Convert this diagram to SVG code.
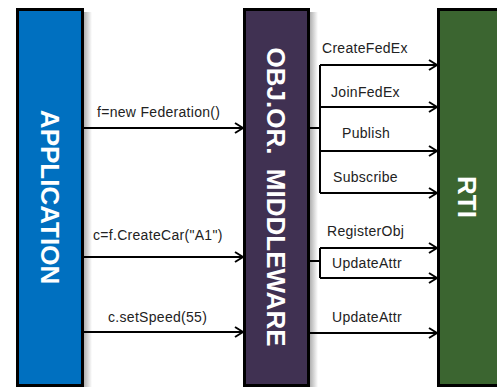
<svg xmlns="http://www.w3.org/2000/svg" width="497" height="389" viewBox="0 0 497 389">
  <style>
    .box { stroke: #000; stroke-width: 3; }
    .title { font-family: "Liberation Sans", Arial, sans-serif; font-weight: bold; font-size: 26px; fill: #fff; text-anchor: middle; }
    .lbl { font-family: "Liberation Sans", Arial, sans-serif; font-size: 14px; letter-spacing: 0.3px; fill: #222; }
    .conn { fill: none; stroke: #000; stroke-width: 2; }
  </style>
  <defs>
    <linearGradient id="shade" x1="0" y1="0" x2="1" y2="0">
      <stop offset="0" stop-color="#000" stop-opacity="0.35"/>
      <stop offset="1" stop-color="#000" stop-opacity="0"/>
    </linearGradient>
    <marker id="chev" viewBox="0 0 10 12" refX="9" refY="6" markerWidth="10" markerHeight="12" markerUnits="userSpaceOnUse" orient="auto">
      <path d="M1,1 L9,6 L1,11" fill="none" stroke="#000" stroke-width="2"/>
    </marker>
  </defs>
  <rect width="497" height="389" fill="#fff"/>

  <!-- soft shadows on the right of each column -->
  <rect x="83" y="12" width="9" height="375" fill="url(#shade)"/>
  <rect x="309" y="12" width="9" height="375" fill="url(#shade)"/>

  <g id="application">
    <rect class="box" x="17.5" y="9.5" width="65" height="376" fill="#0070C0"/>
    <text class="title" transform="translate(50,197) rotate(90)" dy="9">APPLICATION</text>
  </g>

  <g id="middleware">
    <rect class="box" x="244.5" y="9.5" width="64" height="376" fill="#403152"/>
    <text class="title" transform="translate(276,197) rotate(90)" dy="9" xml:space="preserve">OBJ.OR.  MIDDLEWARE</text>
  </g>

  <g id="rti">
    <rect class="box" x="438.5" y="9.5" width="70" height="376" fill="#3B6530"/>
    <text class="title" transform="translate(467,197) rotate(90)" dy="9">RTI</text>
  </g>

  <g id="connectors">
    <!-- application to middleware -->
    <path class="conn" d="M83,128 H243" marker-end="url(#chev)"/>
    <path class="conn" d="M83,257 H243" marker-end="url(#chev)"/>
    <path class="conn" d="M83,332 H243" marker-end="url(#chev)"/>
    <!-- middleware to RTI: federation calls -->
    <path class="conn" d="M309,128 H320"/>
    <path class="conn" d="M320,65 V193"/>
    <path class="conn" d="M320,65 H437" marker-end="url(#chev)"/>
    <path class="conn" d="M320,107 H437" marker-end="url(#chev)"/>
    <path class="conn" d="M320,151 H437" marker-end="url(#chev)"/>
    <path class="conn" d="M320,193 H437" marker-end="url(#chev)"/>
    <!-- object creation -->
    <path class="conn" d="M309,261 H320"/>
    <path class="conn" d="M320,248 V278"/>
    <path class="conn" d="M320,248 H437" marker-end="url(#chev)"/>
    <path class="conn" d="M320,278 H437" marker-end="url(#chev)"/>
    <!-- attribute update -->
    <path class="conn" d="M309,333 H437" marker-end="url(#chev)"/>
  </g>

  <g id="labels">
    <text class="lbl" x="97" y="117">f=new Federation()</text>
    <text class="lbl" x="93" y="240">c=f.CreateCar("A1")</text>
    <text class="lbl" x="108" y="322">c.setSpeed(55)</text>
    <text class="lbl" x="322" y="53">CreateFedEx</text>
    <text class="lbl" x="331" y="97">JoinFedEx</text>
    <text class="lbl" x="342" y="138">Publish</text>
    <text class="lbl" x="333" y="182">Subscribe</text>
    <text class="lbl" x="327" y="236">RegisterObj</text>
    <text class="lbl" x="332" y="268">UpdateAttr</text>
    <text class="lbl" x="332" y="322">UpdateAttr</text>
  </g>
</svg>
